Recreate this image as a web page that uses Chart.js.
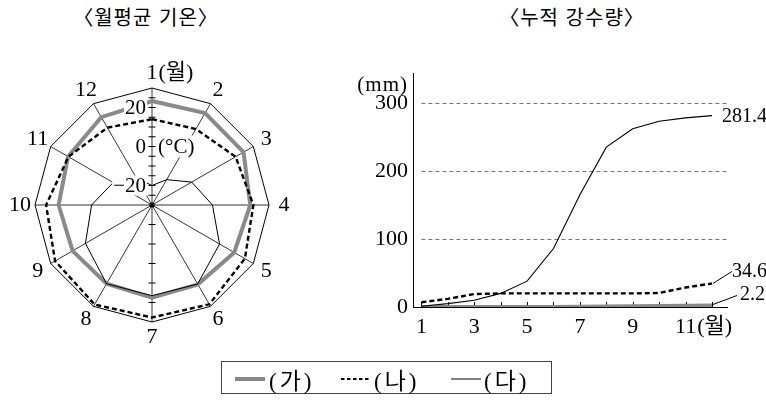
<!DOCTYPE html>
<html lang="ko">
<head>
<meta charset="UTF-8">
<title>월평균 기온 / 누적 강수량</title>
<script src="https://cdn.jsdelivr.net/npm/chart.js"></script>
<style>
    body { margin: 0; width: 766px; height: 404px; background: #fff; position: relative; overflow: hidden; }
    .titulo { position: absolute; top: 2px; font: 20px "Noto Sans CJK KR", sans-serif; letter-spacing: 1px; color: #000; transform: translateX(-50%); white-space: nowrap; }
    .box { position: absolute; }
    /* leyenda */
    #legend { position: absolute; left: 221px; top: 361px; width: 329px; height: 31px; border: 1px solid #444; }
    #legend svg { position: absolute; left: 0; top: 0; }
    #legend span { position: absolute; top: 0; line-height: 31px; font: 23px "Liberation Serif", "Noto Sans CJK KR", serif; letter-spacing: 3px; color: #000; }
</style>
</head>
<body>

<div class="titulo" style="left:146px">〈월평균 기온〉</div>
<div class="titulo" style="left:572px">〈누적 강수량〉</div>

<div class="box" style="left:0;top:50px;width:306px;height:312px"><canvas id="tempChart"></canvas></div>
<div class="box" style="left:340px;top:60px;width:426px;height:290px"><canvas id="rainChart"></canvas></div>

<div id="legend">
    <svg width="329" height="31">
        <line x1="13" y1="17" x2="43" y2="17" stroke="#888" stroke-width="4"/>
        <line x1="119" y1="17" x2="149" y2="17" stroke="#000" stroke-width="2.2" stroke-dasharray="3.5,2.5"/>
        <line x1="229" y1="17" x2="259" y2="17" stroke="#000" stroke-width="1"/>
    </svg>
    <span style="left:47px">(가)</span>
    <span style="left:152px">(나)</span>
    <span style="left:262px">(다)</span>
</div>

<script>
    // datos: temperatura media mensual (°C)
    const months = ['1', '2', '3', '4', '5', '6', '7', '8', '9', '10', '11', '12'];
    const monthUnit = '(월)';
    const tempGa = [23.3, 24.4, 24.2, 20.4, 18.7, 17, 17.5, 16.6, 17, 17.9, 19.7, 22];
    const tempNa = [14, 15, 19.5, 22, 25, 28.8, 27.7, 28.9, 27.4, 24.3, 19.5, 15.8];
    const tempDa = [-20, -15, -6.5, 1, 10, 16.8, 16.5, 16.6, 9.4, 1, -7, -14];
    const tempTicks = [20, 0, -20];

    // datos: precipitación acumulada (mm)
    const rainMonths = [1, 2, 3, 4, 5, 6, 7, 8, 9, 10, 11, 12];
    const rainGa = [0, 0, 0, 0, 0, 0.1, 0.4, 0.8, 1.2, 1.6, 1.9, 2.2];
    const rainNa = [7, 12, 19, 20, 20, 20, 20, 20, 20, 20.6, 28.6, 34.6];
    const rainDa = [1, 5, 10, 20, 38, 86, 165, 235, 262, 273, 278, 281.4];
    const rainTicks = [0, 100, 200, 300];
    const rainXLabels = [1, 3, 5, 7, 9, 11];

    const SERIF = '"Liberation Serif", "Noto Sans CJK KR", serif';
    const GRAY = '#8a8a8a';

    // --- radar: etiquetas, marcas y punto central
    const radarDeco = {
        id: 'radarDeco',
        afterDatasetsDraw(chart) {
            const r = chart.scales.r;
            const ctx = chart.ctx;
            const cx = r.xCenter, cy = r.yCenter;
            ctx.save();
            ctx.font = '21px ' + SERIF;
            ctx.textBaseline = 'middle';

            // fondos blancos de las etiquetas
            ctx.fillStyle = '#fff';
            tempTicks.forEach(v => {
                const y = cy - r.getDistanceFromCenterForValue(v);
                const txt = v < 0 ? '\u2212' + Math.abs(v) : String(v);
                const w = ctx.measureText(txt).width;
                ctx.fillRect(cx - 6 - w - 1, y - 10, w + 2, 20);
            });
            const y0 = cy - r.getDistanceFromCenterForValue(0);
            const wc = ctx.measureText('(°C)').width;
            ctx.fillRect(cx + 5, y0 - 11, wc + 2, 22);

            // marcas del eje vertical
            ctx.strokeStyle = '#000';
            ctx.lineWidth = 1;
            for (let v = r.min + 5; v < r.max; v += 5) {
                const y = cy - r.getDistanceFromCenterForValue(v);
                ctx.beginPath(); ctx.moveTo(cx - 3.5, y); ctx.lineTo(cx + 3.5, y); ctx.stroke();
            }
            for (let v = r.min + 10; v < r.max; v += 10) {
                const y = cy + r.getDistanceFromCenterForValue(v);
                ctx.beginPath(); ctx.moveTo(cx - 3.5, y); ctx.lineTo(cx + 3.5, y); ctx.stroke();
            }

            // textos del eje
            ctx.fillStyle = '#000';
            ctx.textAlign = 'right';
            tempTicks.forEach(v => {
                const y = cy - r.getDistanceFromCenterForValue(v);
                ctx.fillText(v < 0 ? '\u2212' + Math.abs(v) : String(v), cx - 6, y + 1);
            });
            ctx.textAlign = 'left';
            ctx.fillText('(°C)', cx + 6, y0 + 1);

            // meses
            ctx.font = '22px ' + SERIF;
            months.forEach((m, i) => {
                const p = r.getPointPosition(i, r.drawingArea + 15);
                ctx.textAlign = 'center';
                ctx.fillText(m, p.x, p.y);
                if (i === 0) {
                    ctx.textAlign = 'left';
                    ctx.fillText(monthUnit, p.x + ctx.measureText(m).width / 2 + 1, p.y);
                }
            });

            // punto central
            ctx.beginPath();
            ctx.arc(cx, cy, 2.5, 0, Math.PI * 2);
            ctx.fill();
            ctx.restore();
        }
    };

    new Chart(document.getElementById('tempChart'), {
        type: 'radar',
        data: {
            labels: months,
            datasets: [
                { label: '(가)', data: tempGa, borderColor: GRAY, borderWidth: 4, fill: false, pointRadius: 0, order: 2 },
                { label: '(나)', data: tempNa, borderColor: '#000', borderWidth: 2.4, borderDash: [5, 3], fill: false, pointRadius: 0, order: 1 },
                { label: '(다)', data: tempDa, borderColor: '#000', borderWidth: 1, fill: false, pointRadius: 0, order: 0 }
            ]
        },
        options: {
            responsive: true,
            maintainAspectRatio: false,
            animation: false,
            layout: { padding: { left: 35, top: 38, right: 36, bottom: 39 } },
            plugins: { legend: { display: false }, tooltip: { enabled: false } },
            scales: {
                r: {
                    min: -30,
                    max: 30,
                    ticks: { stepSize: 10, display: false },
                    pointLabels: { display: false },
                    angleLines: { color: '#000', lineWidth: 0.8 },
                    grid: {
                        color: c => (c.tick && c.tick.value === 30) ? '#000' : 'rgba(0,0,0,0)',
                        lineWidth: 1
                    }
                }
            }
        },
        plugins: [radarDeco]
    });

    // --- línea: rejilla, marcas y rótulos
    const rainDeco = {
        id: 'rainDeco',
        beforeDatasetsDraw(chart) {
            const { ctx, chartArea } = chart;
            const x = chart.scales.x, y = chart.scales.y;
            ctx.save();
            ctx.strokeStyle = '#777';
            ctx.lineWidth = 1;
            ctx.setLineDash([4, 3]);
            rainTicks.filter(v => v > 0).forEach(v => {
                const py = Math.round(y.getPixelForValue(v)) + 0.5;
                ctx.beginPath(); ctx.moveTo(x.getPixelForValue(1), py); ctx.lineTo(chartArea.right, py); ctx.stroke();
            });
            ctx.setLineDash([]);
            ctx.strokeStyle = '#000';
            const yb = y.getPixelForValue(0);
            rainMonths.forEach(m => {
                const px = Math.round(x.getPixelForValue(m)) + 0.5;
                ctx.beginPath(); ctx.moveTo(px, yb); ctx.lineTo(px, yb - 5); ctx.stroke();
            });
            ctx.restore();
        },
        afterDraw(chart) {
            const { ctx, chartArea } = chart;
            const x = chart.scales.x, y = chart.scales.y;
            ctx.save();
            ctx.fillStyle = '#000';
            ctx.strokeStyle = '#000';
            ctx.font = '22px ' + SERIF;
            ctx.textBaseline = 'middle';

            ctx.textAlign = 'right';
            rainTicks.forEach(v => ctx.fillText(String(v), chartArea.left - 5, y.getPixelForValue(v)));
            ctx.font = '21px ' + SERIF;
            ctx.letterSpacing = '1px';
            ctx.fillText('(mm)', chartArea.left - 5, chartArea.top + 12);
            ctx.letterSpacing = '0px';

            ctx.font = '22px ' + SERIF;
            const yl = chartArea.bottom + 20;
            rainXLabels.forEach((m, i) => {
                const px = x.getPixelForValue(m);
                ctx.textAlign = 'center';
                ctx.fillText(String(m), px, yl);
                if (i === rainXLabels.length - 1) {
                    ctx.textAlign = 'left';
                    ctx.fillText(monthUnit, px + ctx.measureText(String(m)).width / 2 + 1, yl);
                }
            });

            // valores finales
            ctx.font = '20px ' + SERIF;
            ctx.textAlign = 'left';
            ctx.lineWidth = 1;
            const last = rainMonths.length - 1;
            const px = x.getPixelForValue(rainMonths[last]);
            ctx.fillText(String(rainDa[last]), px + 10, y.getPixelForValue(rainDa[last]) + 1);

            let py = y.getPixelForValue(rainNa[last]);
            ctx.beginPath(); ctx.moveTo(px + 1, py); ctx.lineTo(px + 20, py - 12); ctx.stroke();
            ctx.fillText(String(rainNa[last]), px + 20, py - 12);

            py = y.getPixelForValue(rainGa[last]);
            ctx.beginPath(); ctx.moveTo(px + 1, py - 1); ctx.lineTo(px + 25, py - 10); ctx.stroke();
            ctx.fillText(String(rainGa[last]), px + 28, py - 11);
            ctx.restore();
        }
    };

    const pts = arr => arr.map((v, i) => ({ x: rainMonths[i], y: v }));

    new Chart(document.getElementById('rainChart'), {
        type: 'line',
        data: {
            datasets: [
                { label: '(가)', data: pts(rainGa), borderColor: GRAY, borderWidth: 4, pointRadius: 0, order: 2 },
                { label: '(나)', data: pts(rainNa), borderColor: '#000', borderWidth: 2.4, borderDash: [5, 3], pointRadius: 0, order: 1 },
                { label: '(다)', data: pts(rainDa), borderColor: '#000', borderWidth: 1.1, pointRadius: 0, order: 0 }
            ]
        },
        options: {
            responsive: true,
            maintainAspectRatio: false,
            animation: false,
            layout: { padding: { left: 73, top: 13, right: 39, bottom: 43 } },
            plugins: { legend: { display: false }, tooltip: { enabled: false } },
            scales: {
                x: {
                    type: 'linear',
                    min: 0.68,
                    max: 12.57,
                    ticks: { display: false },
                    grid: { display: false, drawTicks: false },
                    border: { display: true, color: '#000', width: 1 }
                },
                y: {
                    min: 0,
                    max: 344,
                    ticks: { display: false },
                    grid: { display: false, drawTicks: false },
                    border: { display: true, color: '#000', width: 1 }
                }
            }
        },
        plugins: [rainDeco]
    });
</script>
</body>
</html>
